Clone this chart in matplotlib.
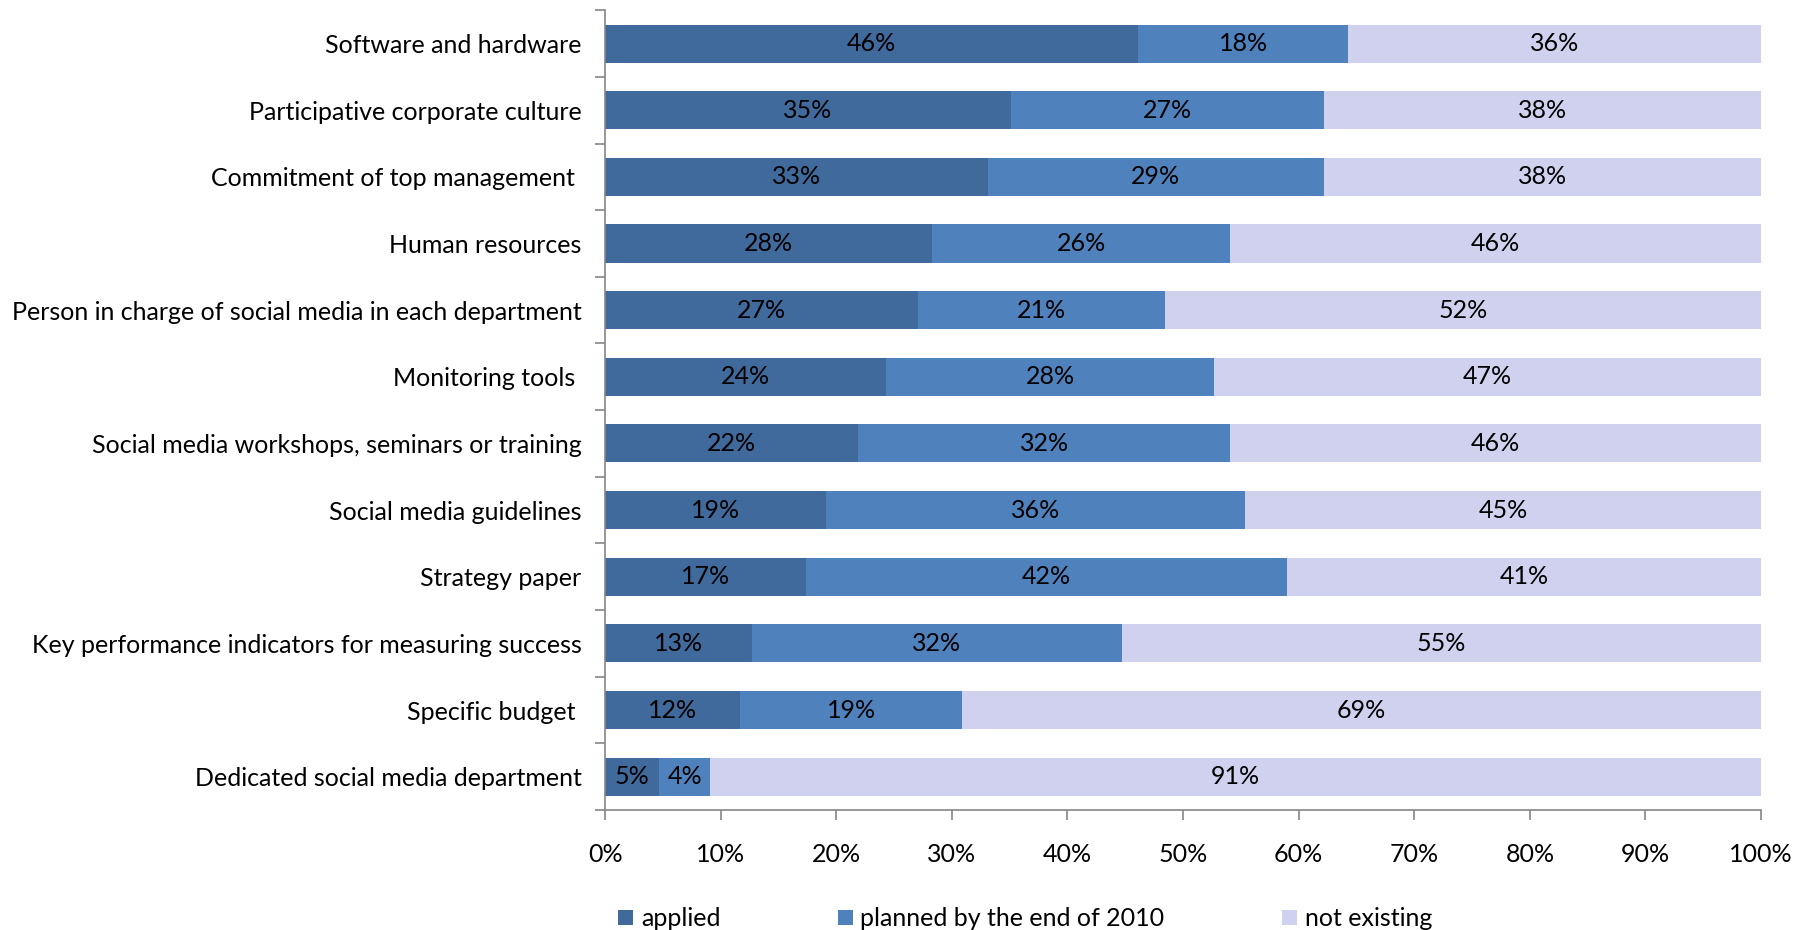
#!/usr/bin/env python3
# stacked horizontal bars: social media measures applied / planned / not existing
import numpy as np
import matplotlib
matplotlib.use('Agg')
import matplotlib.pyplot as plt

# CONFIG
categories = ['Software and hardware', 'Participative corporate culture',
              'Commitment of top management ', 'Human resources',
              'Person in charge of social media in each department',
              'Monitoring tools ', 'Social media workshops, seminars or training',
              'Social media guidelines', 'Strategy paper',
              'Key performance indicators for measuring success',
              'Specific budget ', 'Dedicated social media department']
applied = [46.1, 35.1, 33.1, 28.3, 27.1, 24.3, 21.9, 19.1, 17.4, 12.7, 11.7, 4.7]
planned = [18.2, 27.1, 29.1, 25.8, 21.3, 28.4, 32.2, 36.3, 41.6, 32.0, 19.2, 4.4]
not_existing = [35.7, 37.8, 37.8, 45.9, 51.6, 47.3, 45.9, 44.6, 41.0, 55.3, 69.1, 90.9]
series_names = ['applied', 'planned by the end of 2010', 'not existing']
COLORS = ['#40699c', '#4f81bd', '#d0d1ee']
AXIS_GREY = '#868686'
FONT = 'Lato'
SIZE = 18
# END CONFIG

plt.rcParams['font.family'] = [FONT, 'DejaVu Sans']

fig = plt.figure(figsize=(18.08, 9.30), dpi=100)
ax = fig.add_axes([0.3347, 0.129, 0.6393, 0.860])

n = len(categories)
y = np.arange(n)[::-1]
left = np.zeros(n)
handles = []
for vals, col, name in zip([applied, planned, not_existing], COLORS, series_names):
    vals = np.array(vals)
    bars = ax.barh(y, vals, left=left, height=0.571, color=col, label=name)
    handles.append(bars)
    for yy, l, v in zip(y, left, vals):
        ax.text(l + v / 2, yy, '%d%%' % round(v), ha='center', va='center',
                fontsize=SIZE, color='black')
    left += vals

ax.set_xlim(0, 100)
ax.set_ylim(-0.5, n - 0.5)
ax.set_xticks(np.arange(0, 101, 10))
ax.set_xticklabels(['%d%%' % t for t in range(0, 101, 10)], fontsize=SIZE)
ax.set_yticks(y)
ax.set_yticklabels(categories, fontsize=SIZE)
ax.set_yticks(np.arange(-0.5, n, 1.0), minor=True)
ax.tick_params(axis='y', which='major', length=0, pad=17)
ax.tick_params(axis='y', which='minor', length=7, color=AXIS_GREY, width=1.2)
ax.tick_params(axis='x', length=7, color=AXIS_GREY, width=1.2, pad=17)

for side in ['top', 'right']:
    ax.spines[side].set_visible(False)
for side in ['left', 'bottom']:
    ax.spines[side].set_color(AXIS_GREY)
    ax.spines[side].set_linewidth(1.2)

fig.legend(handles=handles, loc='center', bbox_to_anchor=(0.567, 0.012), ncol=3,
           frameon=False, fontsize=SIZE, handlelength=0.6, handleheight=0.6,
           handletextpad=0.3, columnspacing=4.7)

fig.savefig('out.png', dpi=100)
